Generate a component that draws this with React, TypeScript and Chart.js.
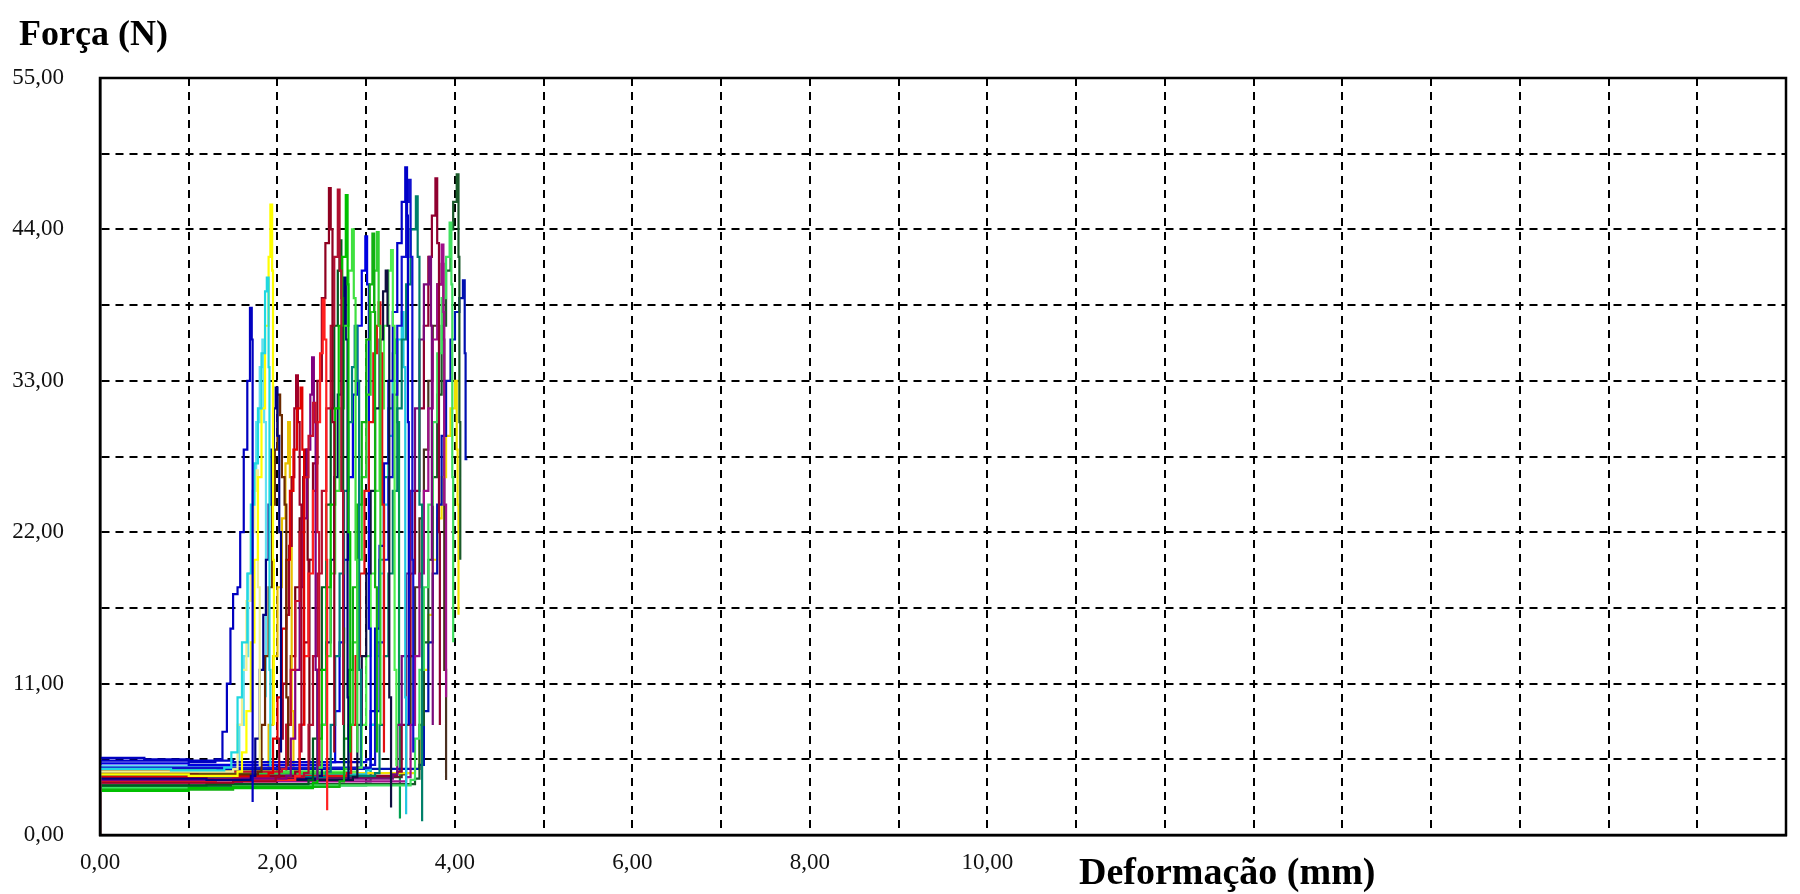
import React, { useEffect, useRef } from "react";
import { Chart, registerables } from "chart.js";

Chart.register(...registerables);

// Axis settings / labels
const yTitle = "Força (N)";
const xTitle = "Deformação (mm)";
const xMin = 0;
const xMax = 19;
const yMin = 0;
const yMax = 55;
const xLabelled = [0, 2, 4, 6, 8, 10];
const yLabelled = [0, 11, 22, 33, 44, 55];

// Curves (deformation mm, force N)
const c01 = [[0,0],[0,5.6],[0.5,5.5],[1.0,5.3],[1.3,5.5],[1.38,7.5],[1.43,11],[1.47,15],[1.5,17.5],[1.55,18],[1.58,22],[1.62,28],[1.66,33],[1.69,38.3],[1.71,36],[1.72,2.4]];
const c02 = [[0,0],[0,4.8],[0.8,4.7],[1.4,4.9],[1.48,6],[1.55,10],[1.6,14],[1.66,19],[1.7,24],[1.74,27],[1.78,31],[1.82,35],[1.86,39.5],[1.88,40.5],[1.9,34],[1.91,12],[1.92,5]];
const c03 = [[0,0],[0,4.4],[1.0,4.3],[1.55,4.6],[1.6,6],[1.65,9],[1.7,14],[1.74,20],[1.78,26],[1.82,31],[1.86,37],[1.9,42],[1.92,45.8],[1.94,41],[1.95,20],[1.96,8]];
const c04 = [[0,0],[0,4.6],[1.2,4.6],[1.5,4.8],[1.55,8],[1.6,12],[1.65,17],[1.7,22],[1.74,25],[1.76,26.5],[1.78,18],[1.8,5]];
const c05 = [[0,0],[0,4.1],[1.2,4.0],[1.7,4.3],[1.75,7],[1.8,12],[1.84,16],[1.87,20],[1.9,24],[1.93,28],[1.96,31],[1.98,32.5],[2.0,29],[2.02,22],[2.04,6]];
const c06 = [[0,0],[0,4.5],[1.0,4.4],[1.78,4.6],[1.82,8],[1.86,13],[1.9,18],[1.94,24],[1.97,28],[2.0,32],[2.03,30.5],[2.05,26],[2.08,24],[2.1,10],[2.12,5]];
const c07 = [[0,0],[0,4.2],[1.2,4.3],[1.9,4.5],[1.95,7],[2.0,10],[2.05,15],[2.1,20],[2.14,25],[2.18,28],[2.22,31],[2.26,32.5],[2.28,28],[2.3,8]];
const c08 = [[0,0],[0,3.8],[1.5,3.9],[1.98,4.2],[2.02,7],[2.06,11],[2.1,16],[2.13,21],[2.16,26],[2.19,31],[2.21,33.4],[2.23,30],[2.25,24],[2.27,6]];
const c09 = [[0,0],[0,4.6],[1.4,4.6],[2.05,4.8],[2.1,8],[2.15,12],[2.2,17],[2.25,22],[2.3,26],[2.35,29],[2.4,31.4],[2.43,30],[2.45,22],[2.47,5]];
const c10 = [[0,0],[0,4.0],[1.6,4.1],[2.1,4.3],[2.15,7],[2.2,12],[2.25,18],[2.29,23],[2.33,28],[2.37,32],[2.39,34.7],[2.41,30],[2.43,12],[2.45,4]];
const c11 = [[0,0],[0,3.9],[1.3,4.0],[2.2,4.3],[2.25,8],[2.3,13],[2.35,19],[2.4,25],[2.44,30],[2.48,35],[2.51,38.9],[2.53,36],[2.55,20],[2.56,1.8]];
const c12 = [[0,0],[0,4.4],[1.1,4.3],[2.2,4.6],[2.25,8],[2.3,14],[2.35,20],[2.4,27],[2.45,33],[2.5,39],[2.54,43],[2.58,47.0],[2.6,44],[2.62,30],[2.64,6]];
const c13 = [[0,0],[0,4.1],[1.5,4.2],[2.3,4.5],[2.35,8],[2.4,13],[2.45,19],[2.5,25],[2.55,31],[2.6,37],[2.64,42],[2.68,46.9],[2.7,41],[2.72,25],[2.74,8]];
const c14 = [[0,0],[0,3.2],[1.0,3.4],[2.4,3.8],[2.45,7],[2.5,12],[2.55,18],[2.6,24],[2.65,31],[2.69,37],[2.73,42],[2.77,46.5],[2.79,40],[2.8,22],[2.82,6]];
const c15 = [[0,0],[0,3.6],[1.2,3.7],[2.35,4.0],[2.4,7],[2.45,12],[2.5,18],[2.55,24],[2.6,31],[2.64,37],[2.68,41],[2.7,43.2],[2.72,39],[2.74,15],[2.75,5]];
const c16 = [[0,0],[0,4.7],[1.3,4.6],[2.45,4.9],[2.5,8],[2.55,13],[2.6,19],[2.65,25],[2.7,31],[2.75,37],[2.8,41],[2.84,44],[2.86,39],[2.88,20],[2.9,6]];
const c17 = [[0,0],[0,4.0],[1.8,4.1],[2.45,4.3],[2.5,8],[2.55,14],[2.6,20],[2.64,26],[2.68,32],[2.72,37],[2.75,40.5],[2.77,36],[2.79,10],[2.8,4]];
const c18 = [[0,0],[0,4.3],[1.2,4.2],[2.55,4.6],[2.6,8],[2.65,13],[2.7,19],[2.75,25],[2.8,30],[2.84,34],[2.87,37],[2.9,33],[2.92,12],[2.94,5]];
const c19 = [[0,0],[0,3.3],[1.5,3.5],[2.7,3.9],[2.75,7],[2.8,12],[2.85,18],[2.9,24],[2.95,30],[3.0,36],[3.04,40],[3.07,43.7],[3.09,38],[3.1,18],[3.12,6]];
const c20 = [[0,0],[0,4.5],[1.4,4.5],[2.75,4.8],[2.8,8],[2.85,14],[2.9,20],[2.95,26],[3.0,32],[3.05,38],[3.09,41],[3.12,43.8],[3.14,37],[3.16,8]];
const c21 = [[0,0],[0,4.2],[1.6,4.3],[2.78,4.5],[2.83,8],[2.88,13],[2.93,19],[2.98,25],[3.03,30],[3.08,35],[3.12,37],[3.14,38.7],[3.16,35],[3.18,24],[3.2,6]];
const c22 = [[0,0],[0,5.2],[1.0,5.1],[2.6,5.3],[2.65,9],[2.7,14],[2.75,20],[2.8,26],[2.85,32],[2.9,37],[2.95,41],[2.99,43.5],[3.01,40],[3.03,15],[3.05,5]];
const c23 = [[0,0],[0,3.9],[1.3,4.0],[2.85,4.2],[2.9,8],[2.95,13],[3.0,19],[3.05,25],[3.1,31],[3.15,36],[3.19,39.5],[3.22,41],[3.24,37],[3.26,10],[3.28,2]];
const c24 = [[0,0],[0,4.6],[1.2,4.6],[2.9,4.9],[2.95,8],[3.0,13],[3.05,19],[3.1,25],[3.15,31],[3.2,37],[3.25,41],[3.28,42.5],[3.3,37],[3.32,12],[3.34,5]];
const c25 = [[0,0],[0,5.4],[1.5,5.3],[3.0,5.5],[3.05,9],[3.1,15],[3.15,21],[3.2,27],[3.25,33],[3.3,38],[3.35,43],[3.4,46],[3.44,48.5],[3.46,45],[3.47,30],[3.48,8]];
const c26 = [[0,0],[0,4.9],[1.5,4.9],[3.05,5.1],[3.1,9],[3.15,14],[3.2,20],[3.25,26],[3.3,32],[3.35,37],[3.4,42],[3.45,46],[3.48,47.6],[3.5,42],[3.52,20],[3.53,6]];
const c27 = [[0,0],[0,4.2],[1.3,4.3],[3.1,4.5],[3.15,8],[3.2,13],[3.25,19],[3.3,25],[3.35,31],[3.4,36],[3.45,40],[3.5,44],[3.56,46.4],[3.58,42],[3.6,24],[3.63,1.0]];
const c28 = [[0,0],[0,4.5],[1.1,4.4],[3.0,4.7],[3.05,8],[3.1,13],[3.15,19],[3.2,24],[3.25,29],[3.3,33],[3.35,36],[3.4,38],[3.42,34],[3.44,10],[3.45,1.5]];
const c29 = [[0,0],[0,4.0],[1.5,4.1],[3.3,4.4],[3.35,8],[3.4,13],[3.45,19],[3.5,25],[3.55,31],[3.6,36],[3.65,40],[3.71,42],[3.73,37],[3.74,20],[3.75,8]];
const c30 = [[0,0],[0,4.3],[1.4,4.3],[3.35,4.6],[3.4,8],[3.45,13],[3.5,19],[3.55,25],[3.6,31],[3.65,37],[3.7,42],[3.74,45],[3.78,47.7],[3.8,43],[3.82,22],[3.83,8]];
const c31 = [[0,0],[0,3.8],[1.6,3.9],[3.45,4.2],[3.5,8],[3.55,13],[3.6,19],[3.65,25],[3.7,31],[3.75,36],[3.8,40],[3.85,42.9],[3.87,38],[3.88,24],[3.9,10]];
const c32 = [[0,0],[0,3.4],[1.5,3.6],[3.5,4.0],[3.55,7],[3.6,12],[3.65,18],[3.7,24],[3.75,30],[3.8,35],[3.85,39],[3.9,42],[3.94,44.5],[3.96,40],[3.97,26],[3.98,14]];
const c33 = [[0,0],[0,3.6],[1.5,3.7],[3.55,4.1],[3.6,8],[3.65,14],[3.7,20],[3.75,26],[3.8,32],[3.85,37],[3.9,41],[3.95,44],[3.98,46],[4.02,48],[4.04,42],[4.05,30],[4.06,20]];
const c34 = [[0,0],[0,4.8],[1.3,4.8],[3.6,5.1],[3.65,9],[3.7,14],[3.75,19],[3.8,24],[3.85,29],[3.9,33],[3.95,36],[4.0,38],[4.05,39],[4.09,40.3],[4.11,35],[4.12,27.3],[4.14,27.3]];
const c35 = [[0,0],[0,4.4],[1.8,4.5],[3.55,4.8],[3.6,8],[3.65,12],[3.7,16],[3.75,20],[3.8,23],[3.85,26],[3.9,29],[3.95,31],[4.0,33],[4.02,28],[4.03,24],[4.04,16]];
const c36 = [[0,0],[0,4.1],[1.5,4.2],[3.4,4.4],[3.45,8],[3.5,13],[3.55,18],[3.6,23],[3.65,28],[3.7,33],[3.75,37],[3.8,40],[3.85,41.5],[3.87,36],[3.88,12],[3.9,4]];
const c37 = [[0,0],[0,4.3],[1.4,4.4],[1.85,4.6],[1.9,8],[1.95,13],[2.0,18],[2.05,23],[2.09,27],[2.12,30],[2.14,26],[2.16,9],[2.18,4]];
const c38 = [[0,0],[0,4.0],[1.6,4.1],[2.05,4.3],[2.1,8],[2.15,13],[2.2,18],[2.25,23],[2.29,26],[2.32,28],[2.34,20],[2.36,5]];
const c39 = [[0,0],[0,5.0],[1.2,5.0],[1.52,5.2],[1.57,8],[1.62,13],[1.67,19],[1.72,25],[1.76,30],[1.8,34],[1.83,36],[1.85,30],[1.87,10]];
const c40 = [[0,0],[0,3.5],[1.5,3.6],[3.0,3.9],[3.05,8],[3.1,14],[3.15,20],[3.2,26],[3.25,31],[3.3,35],[3.33,36],[3.35,30],[3.37,8],[3.38,1.2]];

const curves = [c01,c02,c03,c04,c05,c06,c07,c08,c09,c10,c11,c12,c13,c14,c15,c16,c17,c18,c19,c20,c21,c22,c23,c24,c25,c26,c27,c28,c29,c30,c31,c32,c33,c34,c35,c36,c37,c38,c39,c40];
const colors = [
  "#0000c0","#20d8e0","#ffff00","#f0f090","#000080","#6b2a00","#e00000","#a00028","#c8102e","#800080",
  "#ff2020","#900020","#b01030","#00c000","#005a20","#40e040","#000070","#008080","#10b010","#30d030",
  "#e01010","#0000e0","#101040","#50f050","#0000c8","#1010d0","#00806a","#20c8e0","#7a0a7a","#900030",
  "#a0108a","#40e060","#1a5a2a","#0010b0","#f0e000","#4a3020","#e8c000","#700010","#60e0f0","#00a050"
];

const fmt = (v: number) => v.toFixed(2).replace(".", ",");
const isIn = (v: number, list: number[]) => list.some((t) => Math.abs(t - v) < 1e-6);

const framePlugin = {
  id: "frameAndTitles",
  beforeDraw(chart: any) {
    const { ctx, width, height } = chart;
    ctx.save();
    ctx.fillStyle = "#ffffff";
    ctx.fillRect(0, 0, width, height);
    ctx.restore();
  },
  afterDraw(chart: any) {
    const { ctx, chartArea } = chart;
    const { left, top, right, bottom } = chartArea;
    ctx.save();
    ctx.strokeStyle = "#000";
    ctx.lineWidth = 2.5;
    ctx.setLineDash([]);
    ctx.strokeRect(left, top, right - left, bottom - top);
    ctx.fillStyle = "#000";
    ctx.textBaseline = "alphabetic";
    ctx.textAlign = "left";
    ctx.font = "bold 36px 'Liberation Serif', serif";
    ctx.fillText(yTitle, 19, 45);
    ctx.font = "bold 38px 'Liberation Serif', serif";
    ctx.fillText(xTitle, 1079, 884);
    ctx.restore();
  },
};

export default function App() {
  const ref = useRef<HTMLCanvasElement | null>(null);
  useEffect(() => {
    if (!ref.current) return;
    const chart = new Chart(ref.current, {
      type: "scatter",
      data: {
        datasets: curves.map((c, i) => ({
          label: "C" + (i + 1),
          data: c.map(([x, y]) => ({ x, y })),
          borderColor: colors[i],
          backgroundColor: colors[i],
          borderWidth: 2.2,
          showLine: true,
          stepped: true,
          pointRadius: 0,
          fill: false,
        })),
      },
      options: {
        responsive: false,
        animation: false,
        events: [],
        layout: { padding: { top: 78, right: 3, left: 0, bottom: 0 } },
        plugins: { legend: { display: false }, title: { display: false }, tooltip: { enabled: false } },
        scales: {
          x: {
            type: "linear",
            min: xMin,
            max: xMax,
            afterFit: (s: any) => { s.height = 59; },
            ticks: {
              stepSize: 1,
              autoSkip: false,
              maxRotation: 0,
              padding: 14,
              color: "#111",
              font: { family: "'Liberation Serif', serif", size: 23 },
              callback: (v: any) => (isIn(Number(v), xLabelled) ? fmt(Number(v)) : ""),
            },
            grid: { color: "#000", lineWidth: 2, drawTicks: false },
            border: { display: true, color: "#000", width: 2.5, dash: [8, 6] },
          },
          y: {
            type: "linear",
            min: yMin,
            max: yMax,
            afterFit: (s: any) => { s.width = 100; },
            ticks: {
              stepSize: 5.5,
              autoSkip: false,
              padding: 36,
              color: "#111",
              font: { family: "'Liberation Serif', serif", size: 23 },
              callback: (v: any) => (isIn(Number(v), yLabelled) ? fmt(Number(v)) : ""),
            },
            grid: { color: "#000", lineWidth: 2, drawTicks: false },
            border: { display: true, color: "#000", width: 2.5, dash: [8, 6] },
          },
        },
      },
      plugins: [framePlugin],
    });
    return () => chart.destroy();
  }, []);
  return (
    <div style={{ position: "fixed", left: 0, top: 0, width: 1800, height: 894, background: "#fff" }}>
      <canvas ref={ref} width={1800} height={894} style={{ display: "block" }} />
    </div>
  );
}
